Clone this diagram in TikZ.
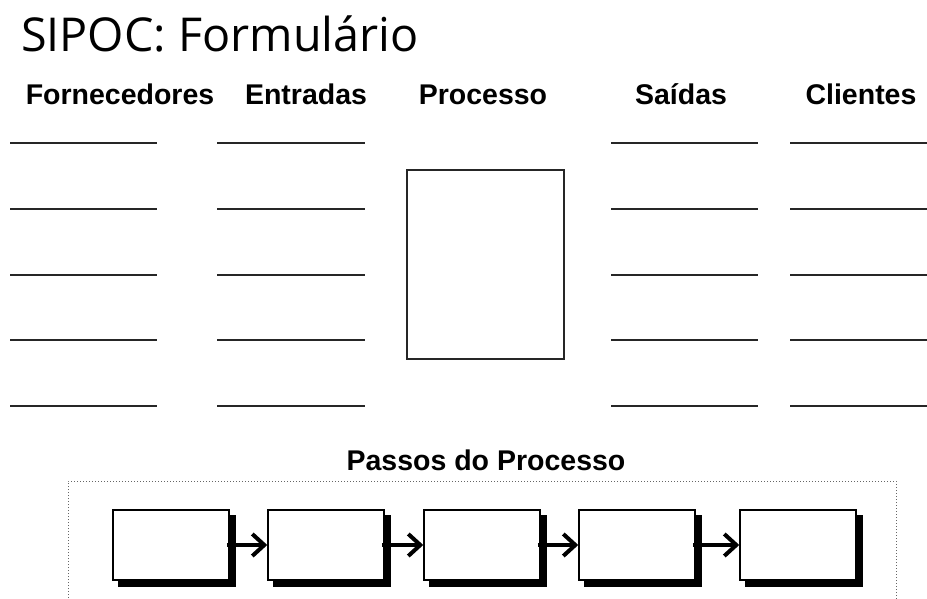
\documentclass[tikz,border=0pt]{standalone}
\usepackage{fontspec}
\setmainfont{Liberation Sans}
\newfontfamily\titlefont{Open Sans}
\usetikzlibrary{arrows.meta}
\begin{document}
\begin{tikzpicture}[x=1pt,y=-1pt,
  hdr/.style={font=\fontsize{28.5}{31}\selectfont\bfseries, anchor=base, inner sep=0pt},
  blank/.style={draw=black!85, line width=2pt},
  stepbox/.style={draw=black, line width=1.5pt, fill=white, minimum width=116pt, minimum height=70pt, inner sep=0pt,
     preaction={fill=black, draw=black, transform canvas={xshift=6pt,yshift=-6pt}}},
  flow/.style={line width=4pt, -{Straight Barb[length=12pt,width=22pt,line width=4pt]}}
]
\useasboundingbox (0,0) rectangle (927,599);
\node[anchor=base west, inner sep=0pt, font=\titlefont\fontsize{46.7}{50}\selectfont] (title) at (21,52) {SIPOC: Formulário};
\node[hdr] (h1) at (120,105) {Fornecedores};
\node[hdr] (h2) at (306,105) {Entradas};
\node[hdr] (h3) at (483,105) {Processo};
\node[hdr] (h4) at (681,105) {Saídas};
\node[hdr] (h5) at (861,105) {Clientes};
\foreach \y in {143.5,209,274.5,340,405.5}{
  \draw[blank] (10,\y) -- (157,\y);
  \draw[blank] (217,\y) -- (365,\y);
  \draw[blank] (611,\y) -- (758,\y);
  \draw[blank] (790,\y) -- (927,\y);
}
\node[draw=black!85, line width=1.8pt, minimum width=157pt, minimum height=189pt, inner sep=0pt] (proc) at (485.5,264.5) {};
\node[anchor=base, inner sep=0pt, font=\fontsize{28.5}{31}\selectfont\bfseries] (passos) at (486,470) {Passos do Processo};
\draw[black!60, line width=1pt, dotted] (68,610) -- (68,481) -- (896,481) -- (896,610);
\node[stepbox] (s1) at (171,545) {};
\node[stepbox] (s2) at (326,545) {};
\node[stepbox] (s3) at (482,545) {};
\node[stepbox] (s4) at (637,545) {};
\node[stepbox] (s5) at (798,545) {};
\foreach \a/\b in {s1/s2,s2/s3,s3/s4,s4/s5}{
  \draw[flow] ([xshift=-3pt]\a.east) -- (\b.west);
}
\end{tikzpicture}
\end{document}
